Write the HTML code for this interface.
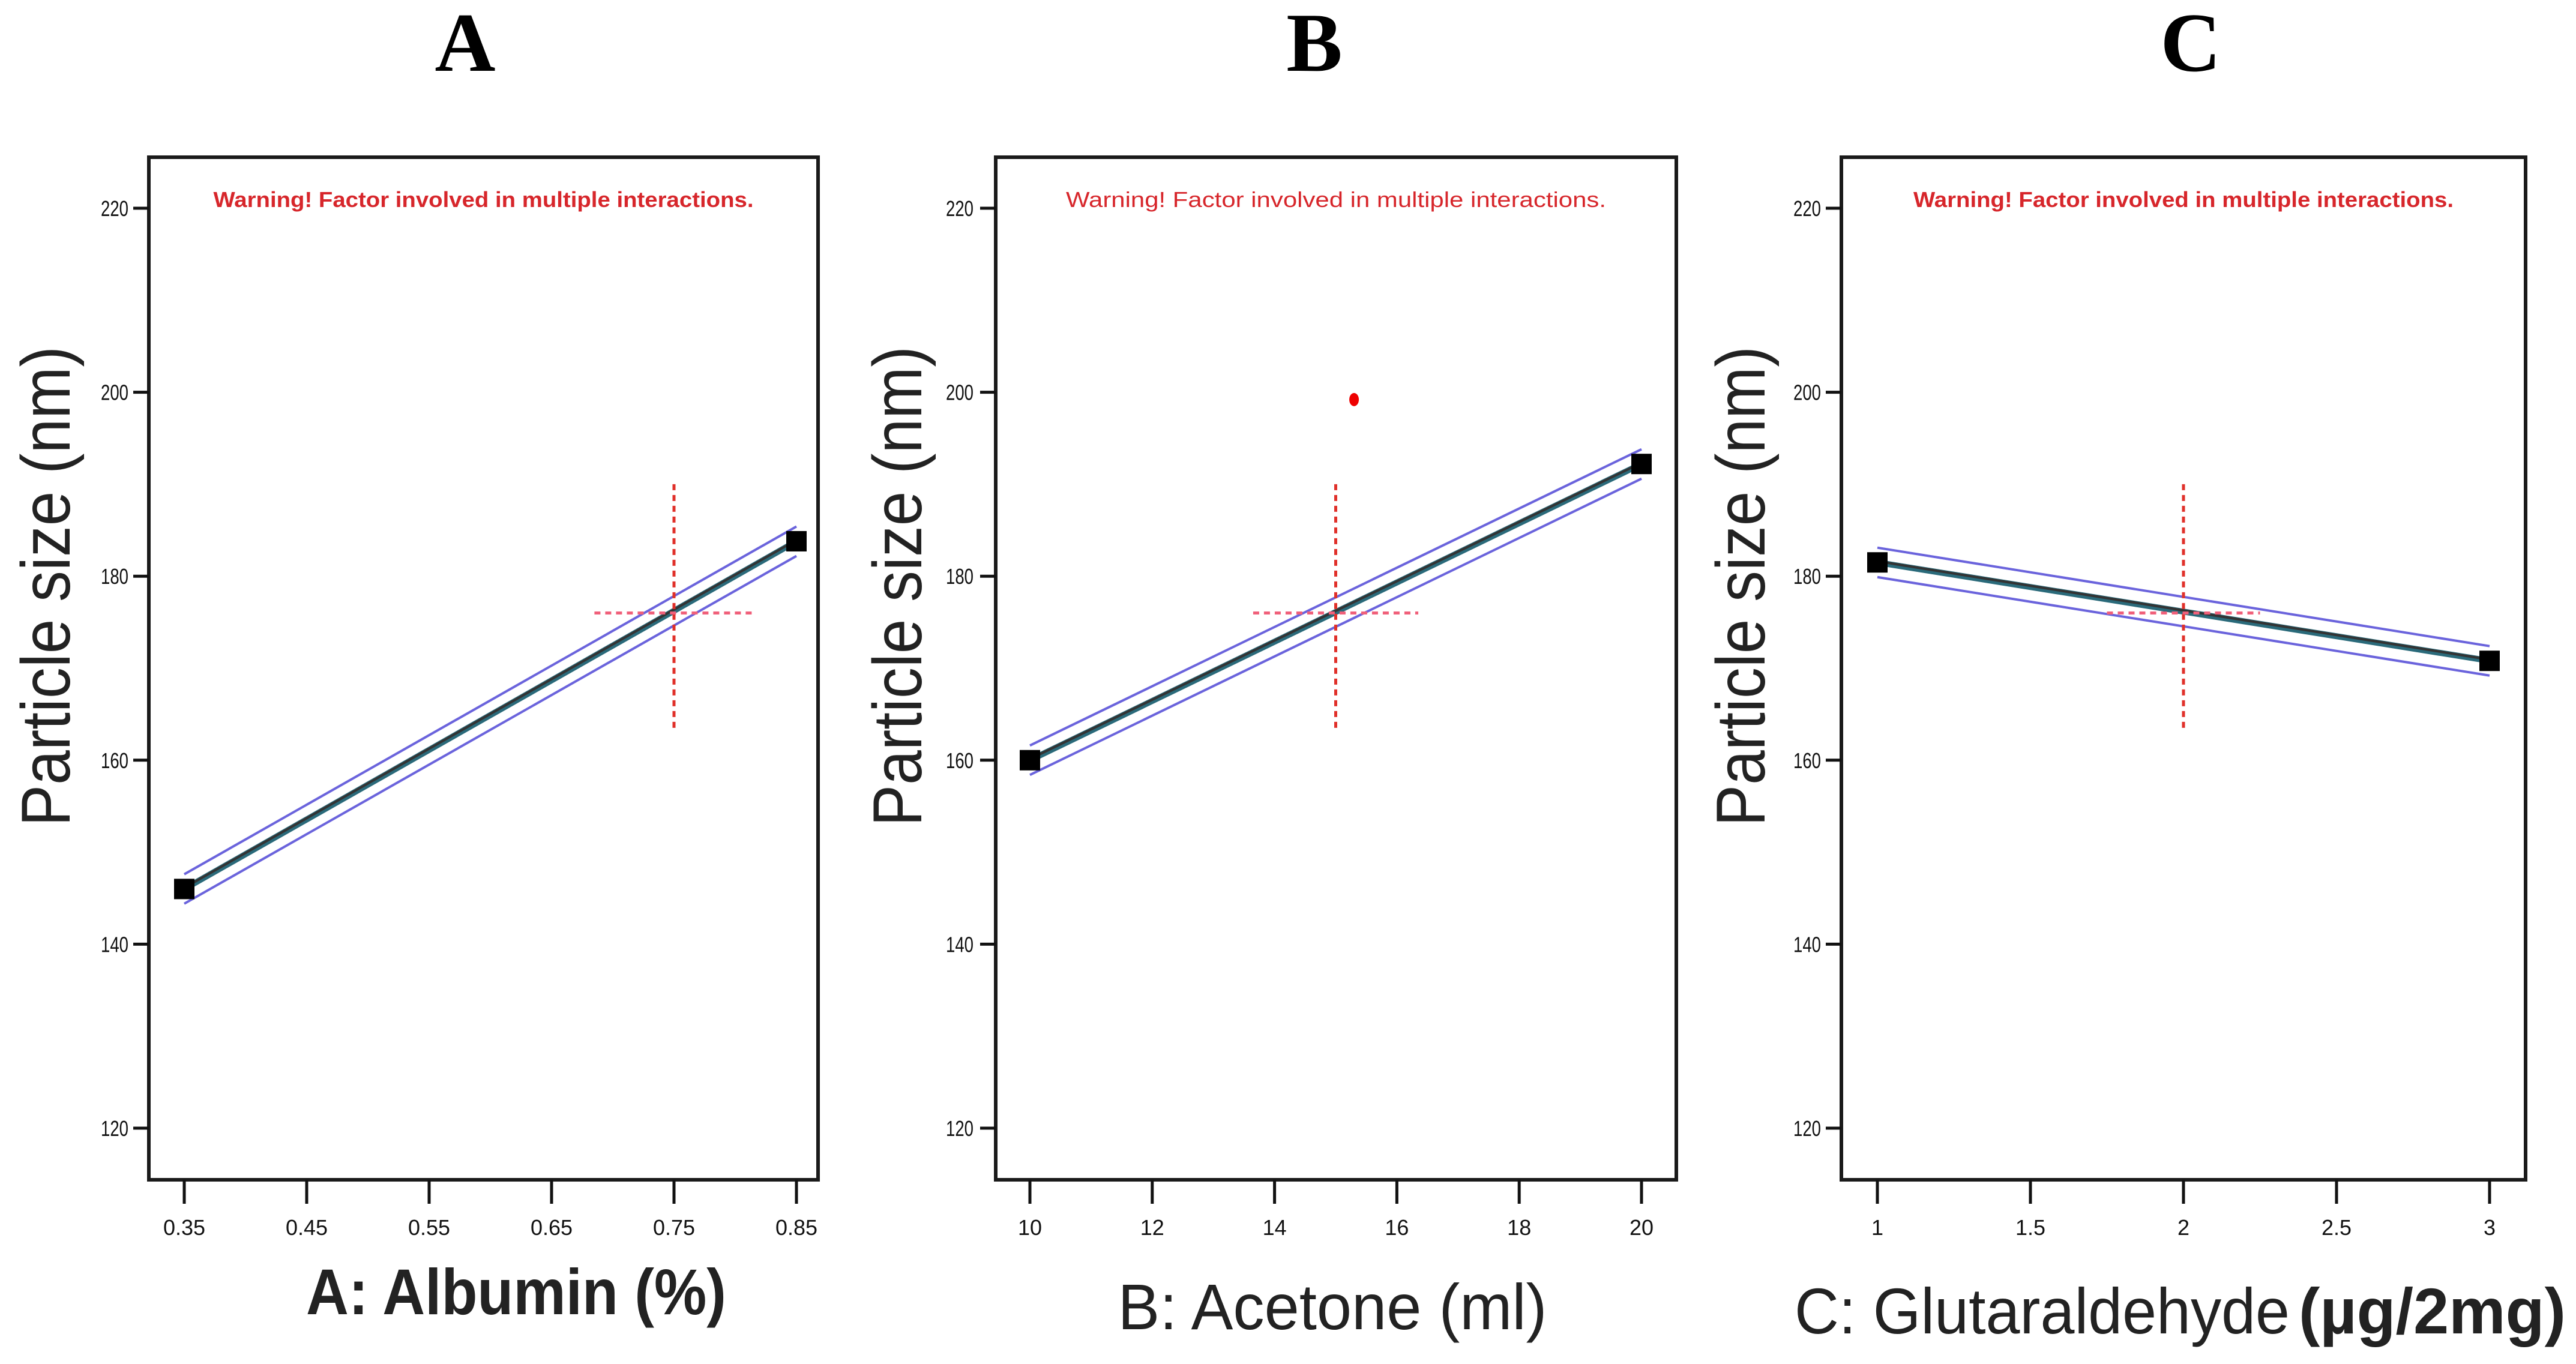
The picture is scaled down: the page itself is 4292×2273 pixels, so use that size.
<!DOCTYPE html>
<html><head><meta charset="utf-8"><style>
html,body{margin:0;padding:0;background:#fff;}
svg{display:block;}
</style></head><body>
<svg id="fig" width="4292" height="2273" viewBox="0 0 4292 2273" xmlns="http://www.w3.org/2000/svg"></svg>
<script>
// Panel A data
const aTicks = [0.35, 0.45, 0.55, 0.65, 0.75, 0.85];
const aTickLabels = ["0.35", "0.45", "0.55", "0.65", "0.75", "0.85"];
const aLineX = [0.35, 0.85];
const aLineY = [146, 183.8];
const aCenter = [0.75, 176];
// Panel B data
const bTicks = [10, 12, 14, 16, 18, 20];
const bTickLabels = ["10", "12", "14", "16", "18", "20"];
const bLineX = [10, 20];
const bLineY = [160, 192.2];
const bCenter = [15, 176];
const bPoint = [15.3, 199.2];
// Panel C data
const cTicks = [1, 1.5, 2, 2.5, 3];
const cTickLabels = ["1", "1.5", "2", "2.5", "3"];
const cLineX = [1, 3];
const cLineY = [181.5, 170.8];
const cCenter = [2, 176];
// shared y axis
const yTicks = [120, 140, 160, 180, 200, 220];
const yTickLabels = ["120", "140", "160", "180", "200", "220"];
const bandHalf = 1.6;

const NS = "http://www.w3.org/2000/svg";
const svg = document.getElementById('fig');
function mk(tag, attrs, parent, text) {
  const e = document.createElementNS(NS, tag);
  for (const k in attrs) e.setAttribute(k, attrs[k]);
  if (text !== undefined) e.textContent = text;
  (parent || svg).appendChild(e);
  return e;
}

const panels = [
  {id:'a', letter:'A', letterX:775, left:248, right:1363, x0:307, x1:1327, xmin:0.35, xmax:0.85,
   ticks:aTicks, labels:aTickLabels, lx:aLineX, ly:aLineY, c:aCenter, hHalf:0.065, yTitleX:76,
   xTitle:'A: Albumin (%)', xTitleX:860, xTitleY:2190, xTitleW:700, xTitleWeight:'bold', warnBold:true, tickLabelRight:214, pt:null},
  {id:'b', letter:'B', letterX:2190, left:1659, right:2793, x0:1716, x1:2735, xmin:10, xmax:20,
   ticks:bTicks, labels:bTickLabels, lx:bLineX, ly:bLineY, c:bCenter, hHalf:1.35, yTitleX:1495,
   xTitle:'B: Acetone (ml)', xTitleX:2220, xTitleY:2215, xTitleW:715, xTitleWeight:'normal', warnBold:false, tickLabelRight:1622, pt:bPoint},
  {id:'c', letter:'C', letterX:3650, left:3068, right:4208, x0:3128, x1:4148, xmin:1, xmax:3,
   ticks:cTicks, labels:cTickLabels, lx:cLineX, ly:cLineY, c:cCenter, hHalf:0.25, yTitleX:2900,
   xTitle:'C: Glutaraldehyde', xTitleX:null, xTitleY:2222, xTitleW:0, xTitleWeight:'normal', warnBold:true, tickLabelRight:3034, pt:null}
];
const plotTop = 262, plotBottom = 1966, y220 = 347, y120 = 1880;
function ys(v){ return y120 + (v-120)*(y220-y120)/100; }

panels.forEach(p => {
  const g = mk('g', {});
  
  
  const xs = v => p.x0 + (v - p.xmin) * (p.x1 - p.x0) / (p.xmax - p.xmin);

  const t = mk('text', {x:p.letterX, y:118, 'font-family':'Liberation Serif, serif', 'font-weight':'bold', 'font-size':140, 'text-anchor':'middle', fill:'#000'}, g, p.letter);
  
  

  const box = mk('rect', {x:p.left, y:plotTop, width:p.right-p.left, height:plotBottom-plotTop, fill:'#fff', stroke:'#1a1a1a', 'stroke-width':6}, g);
  
  

  const w = mk('text', {x:(p.left+p.right)/2, y:345, 'font-family':'Liberation Sans, sans-serif', 'font-weight':p.warnBold?'bold':'normal', 'font-size':36, 'text-anchor':'middle', fill:'#d7262b', textLength:900, lengthAdjust:'spacingAndGlyphs'}, g, 'Warning! Factor involved in multiple interactions.');
  
  

  yTicks.forEach((v,i) => {
    const y = ys(v);
    const l = mk('line', {x1:p.left-26, x2:p.left, y1:y, y2:y, stroke:'#111', 'stroke-width':5}, g);
    
    
    const tl = mk('text', {x:p.tickLabelRight, y:y+13, 'font-family':'Liberation Sans, sans-serif', 'font-size':36, 'text-anchor':'end', fill:'#111', textLength:46, lengthAdjust:'spacingAndGlyphs'}, g, yTickLabels[i]);
    
    
  });
  p.ticks.forEach((v,i) => {
    const x = xs(v);
    const l = mk('line', {x1:x, x2:x, y1:plotBottom, y2:plotBottom+40, stroke:'#111', 'stroke-width':5}, g);
    
    
    const tl = mk('text', {x:x, y:2058, 'font-family':'Liberation Sans, sans-serif', 'font-size':36, 'text-anchor':'middle', fill:'#111'}, g, p.labels[i]);
    
    
  });

  const yt = mk('text', {x:0, y:0, transform:`translate(${p.yTitleX+40},977) rotate(-90)`, 'font-family':'Liberation Sans, sans-serif', 'font-size':115, 'text-anchor':'middle', fill:'#222', textLength:800, lengthAdjust:'spacingAndGlyphs'}, g, 'Particle size (nm)');
  
  

  if (p.id !== 'c') {
    const xt = mk('text', {x:p.xTitleX, y:p.xTitleY, 'font-family':'Liberation Sans, sans-serif', 'font-weight':p.xTitleWeight, 'font-size':108, 'text-anchor':'middle', fill:'#222', textLength:p.xTitleW, lengthAdjust:'spacingAndGlyphs'}, g, p.xTitle);
    
    
  } else {
    const xt = mk('text', {x:2990, y:p.xTitleY, 'font-family':'Liberation Sans, sans-serif', 'font-size':108, fill:'#222'}, g);
    
    
    mk('tspan', {textLength:825, lengthAdjust:'spacingAndGlyphs'}, xt, 'C: Glutaraldehyde');
    mk('tspan', {x:3830, 'font-weight':'bold', textLength:445, lengthAdjust:'spacingAndGlyphs'}, xt, '(µg/2mg)');
  }

  const X0 = xs(p.lx[0]), X1 = xs(p.lx[1]);
  [bandHalf, -bandHalf].forEach(d => {
    const b = mk('line', {x1:X0, y1:ys(p.ly[0]+d), x2:X1, y2:ys(p.ly[1]+d), stroke:'#6a63dc', 'stroke-width':4}, g);
    
    
  });
  const ln = mk('line', {x1:X0, y1:ys(p.ly[0]), x2:X1, y2:ys(p.ly[1]), stroke:'#2a6a7a', 'stroke-width':10}, g);
  
  
  const ln2 = mk('line', {x1:X0, y1:ys(p.ly[0])-2, x2:X1, y2:ys(p.ly[1])-2, stroke:'#333', 'stroke-width':4}, g);
  
  

  const cx = xs(p.c[0]), cy = ys(p.c[1]);
  const v = mk('line', {x1:cx, x2:cx, y1:ys(190), y2:ys(163), stroke:'#e0302a', 'stroke-width':5, 'stroke-dasharray':'10 8'}, g);
  
  
  const h = mk('line', {x1:xs(p.c[0]-p.hHalf), x2:xs(p.c[0]+p.hHalf), y1:cy, y2:cy, stroke:'#f0607a', 'stroke-width':5, 'stroke-dasharray':'10 8'}, g);
  
  

  [0,1].forEach(i => {
    const m = mk('rect', {x:xs(p.lx[i])-17, y:ys(p.ly[i])-17, width:34, height:34, fill:'#000'}, g);
    
    
  });
  if (p.pt) {
    const d = mk('ellipse', {cx:xs(p.pt[0]), cy:ys(p.pt[1]), rx:8, ry:11, fill:'#ee0000'}, g);
    
    
  }
});
</script>
</body></html>
